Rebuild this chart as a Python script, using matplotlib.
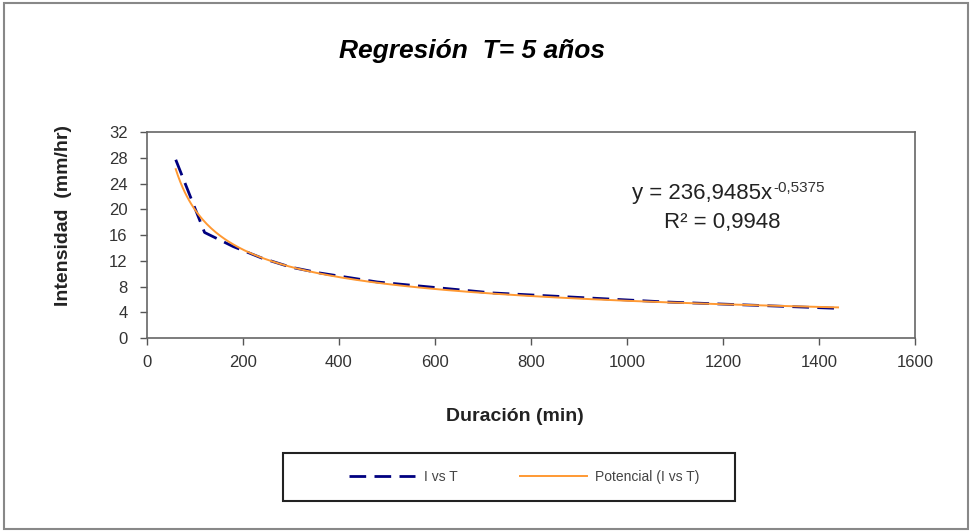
import numpy as np
import matplotlib
matplotlib.use('Agg')
import matplotlib.pyplot as plt
from matplotlib.patches import Rectangle

plt.rcParams['font.family'] = ['Liberation Sans', 'DejaVu Sans']

# ---- data ----
duracion = [60, 120, 180, 240, 300, 360, 480, 720, 1080, 1440]      # min
intensidad = [27.7, 16.4, 14.2, 12.4, 11.0, 10.1, 8.7, 7.0, 5.6, 4.6]  # mm/hr

# trendline coefficients as printed on the chart
coef_a = 236.9485
coef_b = -0.5375

x_ticks = [0, 200, 400, 600, 800, 1000, 1200, 1400, 1600]
y_ticks = [0, 4, 8, 12, 16, 20, 24, 28, 32]


def main():
    fig = plt.figure(figsize=(9.72, 5.32), dpi=100)
    ax = fig.add_axes([0.1512, 0.3647, 0.790, 0.387])

    l1 = ax.plot(duracion, intensidad, color='#000080', lw=2,
                 dashes=(6, 3), label='I vs T')
    xfit = np.linspace(min(duracion), max(duracion), 300)
    l2 = ax.plot(xfit, coef_a * xfit ** coef_b, color='#FF9933', lw=1.4,
                 label='Potencial (I vs T)')

    ax.set_xlim(0, 1600)
    ax.set_ylim(0, 32)
    ax.set_xticks(x_ticks)
    ax.set_yticks(y_ticks)
    ax.tick_params(direction='out', length=5, width=1, color='#555555',
                   labelsize=12, labelcolor='#333333')
    ax.tick_params(axis='x', pad=7)
    ax.tick_params(axis='y', pad=9)
    for sp in ax.spines.values():
        sp.set_color('#666666')
        sp.set_linewidth(1.2)

    # equation and R2
    ax.text(1302, 22.4, 'y = 236,9485x', ha='right', va='center',
            fontsize=16, color='#222222')
    ax.annotate('-0,5375', xy=(1302, 22.4), xytext=(1, 4),
                textcoords='offset points', ha='left', va='center',
                fontsize=11, color='#333333')
    ax.text(1198, 18.0, 'R² = 0,9948', ha='center', va='center',
            fontsize=16, color='#222222')

    fig.text(0.486, 0.904, 'Regresión  T= 5 años', ha='center', va='center',
             fontsize=19, fontweight='bold', fontstyle='italic')
    fig.text(0.0658, 0.594, 'Intensidad  (mm/hr)', rotation=90, ha='center',
             va='center', fontsize=14, fontweight='bold', color='#222222')
    fig.text(0.530, 0.218, 'Duración (min)', ha='center', va='center',
             fontsize=14, fontweight='bold', color='#222222')

    # legend: entries centred inside a drawn box
    lns = l1 + l2
    leg = fig.legend(lns, [l.get_label() for l in lns], ncol=2,
                     loc='center', bbox_to_anchor=(0.539, 0.1034),
                     frameon=False, fontsize=10, handlelength=4.8,
                     handletextpad=0.6, columnspacing=4.5)
    for t in leg.get_texts():
        t.set_color('#444444')
    fig.patches.append(Rectangle((283 / 972, 1 - 501 / 532), 452 / 972, 48 / 532,
                                 transform=fig.transFigure, fill=False,
                                 edgecolor='#222222', lw=1.5))

    # outer chart border
    fig.patches.append(Rectangle((0.004, 0.005), 0.992, 0.989,
                                 transform=fig.transFigure, fill=False,
                                 edgecolor='#888888', lw=1.5))

    fig.savefig('out.png', dpi=100)


if __name__ == '__main__':
    main()
